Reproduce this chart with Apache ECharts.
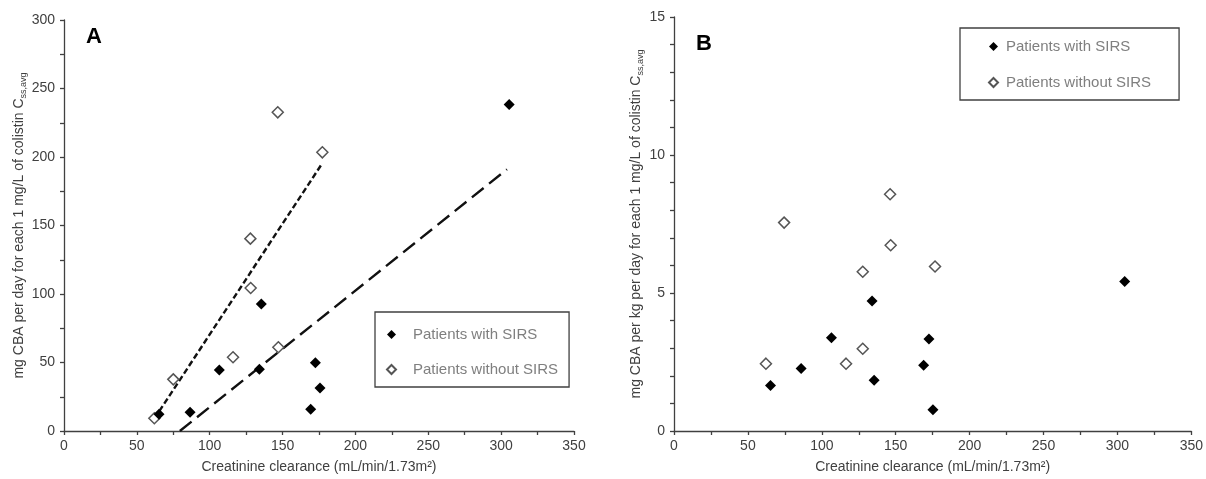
<!DOCTYPE html>
<html>
<head>
<meta charset="utf-8">
<script src="https://cdn.jsdelivr.net/npm/echarts@6/dist/echarts.min.js"></script>
<style>
  html, body { margin: 0; padding: 0; background: #fff; }
  #chart { width: 1206px; height: 479px; }
</style>
</head>
<body>
<div id="chart"></div>
<script>
// creatinine clearance vs dose per 1 mg/L, panel A (mg/day) and panel B (mg/kg/day)
const withSirsA = [
  [65.2, 12.2], [86.5, 13.6], [106.6, 44.5], [134.1, 45.0], [135.4, 92.7],
  [169.3, 15.8], [172.5, 49.9], [175.7, 31.4], [305.5, 238.4]
]
const withoutSirsA = [
  [62.0, 9.3], [75.0, 37.7], [116.0, 53.8], [127.9, 140.4], [128.1, 104.4],
  [146.7, 232.6], [147.1, 61.1], [177.3, 203.4]
]
// regression lines (end points)
const fitWithA = [[79.5, 0], [304, 191]]
const fitWithoutA = [[62, 9], [177, 195]]

const withSirsB = [
  [65.3, 1.65], [86.0, 2.26], [106.5, 3.38], [134.0, 4.71], [135.4, 1.84],
  [168.9, 2.38], [172.5, 3.33], [175.2, 0.77], [304.9, 5.42]
]
const withoutSirsB = [
  [62.2, 2.44], [74.5, 7.55], [116.4, 2.44], [127.7, 5.77], [127.7, 2.98],
  [146.2, 8.58], [146.6, 6.73], [176.6, 5.96]
]

const legendNames = ['Patients with SIRS', 'Patients without SIRS']
const panelLabels = ['A', 'B']
const xName = 'Creatinine clearance (mL/min/1.73m²)'
const yNameA = '{m|mg CBA per day for each 1 mg/L of colistin C}{s|ss,avg}'
const yNameB = '{m|mg CBA per kg per day for each 1 mg/L of colistin C}{s|ss,avg}'

const font = 'Liberation Sans'
const axisColor = '#404040'

function xAxisOf(gridIndex) {
  return {
    type: 'value',
    gridIndex: gridIndex,
    min: 0,
    max: 350,
    interval: 50,
    name: xName,
    nameLocation: 'middle',
    nameGap: 29,
    nameTextStyle: { fontFamily: font, fontSize: 14, color: axisColor },
    axisLine: { show: true, lineStyle: { color: axisColor, width: 1.3 } },
    axisTick: { show: true, length: 4, lineStyle: { color: axisColor, width: 1.3 } },
    minorTick: { show: true, splitNumber: 2, length: 4, lineStyle: { color: axisColor, width: 1.3 } },
    splitLine: { show: false },
    axisLabel: { fontFamily: font, fontSize: 14, color: axisColor, margin: 8 }
  }
}

function yAxisOf(gridIndex, max, interval, minorSplit, name, gap) {
  return {
    type: 'value',
    gridIndex: gridIndex,
    min: 0,
    max: max,
    interval: interval,
    name: name,
    nameLocation: 'middle',
    nameGap: gap,
    nameTextStyle: {
      rich: {
        m: { fontFamily: font, fontSize: 14, color: axisColor, lineHeight: 17 },
        s: { fontFamily: font, fontSize: 9, color: axisColor, lineHeight: 17, verticalAlign: 'bottom' }
      }
    },
    axisLine: { show: true, lineStyle: { color: axisColor, width: 1.3 } },
    axisTick: { show: true, length: 4, lineStyle: { color: axisColor, width: 1.3 } },
    minorTick: { show: true, splitNumber: minorSplit, length: 4, lineStyle: { color: axisColor, width: 1.3 } },
    splitLine: { show: false },
    axisLabel: { fontFamily: font, fontSize: 14, color: axisColor, margin: 9 }
  }
}

const filledStyle = { color: '#000', opacity: 1 }
const openStyle = { color: '#fff', borderColor: '#555', borderWidth: 1.5, opacity: 1 }

function scatter(name, data, idx, style, z) {
  return {
    name: name,
    type: 'scatter',
    xAxisIndex: idx,
    yAxisIndex: idx,
    symbol: 'diamond',
    symbolSize: 11,
    itemStyle: style,
    data: data,
    z: z
  }
}

function fitLine(data, dash) {
  return {
    name: 'fit',
    type: 'line',
    xAxisIndex: 0,
    yAxisIndex: 0,
    data: data,
    symbol: 'none',
    silent: true,
    lineStyle: { color: '#111', width: 2.4, type: dash },
    z: 1
  }
}

const legendText = { fontFamily: font, fontSize: 15, color: '#7f7f7f' }

const chart = echarts.init(document.getElementById('chart'))
chart.setOption({
  backgroundColor: '#fff',
  animation: false,
  title: [
    { text: panelLabels[0], left: 86, top: 26, padding: 0, textStyle: { fontFamily: font, fontSize: 22, fontWeight: 'bold', color: '#000' } },
    { text: panelLabels[1], left: 696, top: 33, padding: 0, textStyle: { fontFamily: font, fontSize: 22, fontWeight: 'bold', color: '#000' } }
  ],
  legend: [
    {
      data: legendNames,
      orient: 'vertical',
      left: 375,
      top: 312,
      padding: [15, 11, 10, 11],
      itemGap: 20,
      itemWidth: 9,
      itemHeight: 9,
      borderColor: axisColor,
      borderWidth: 1.3,
      textStyle: Object.assign({ padding: [0, 0, 0, 12] }, legendText)
    },
    {
      data: legendNames,
      orient: 'vertical',
      left: 960,
      top: 28,
      padding: [11, 28, 10, 28],
      itemGap: 21,
      itemWidth: 9,
      itemHeight: 9,
      borderColor: axisColor,
      borderWidth: 1.3,
      textStyle: Object.assign({ padding: [0, 0, 0, 3] }, legendText)
    }
  ],
  grid: [
    { left: 64, top: 20, width: 510, height: 411 },
    { left: 674, top: 17, width: 518, height: 416 }
  ],
  xAxis: [xAxisOf(0), xAxisOf(1)],
  yAxis: [
    yAxisOf(0, 300, 50, 2, yNameA, 30),
    yAxisOf(1, 15, 5, 5, yNameB, 29)
  ],
  series: [
    fitLine(fitWithoutA, [6, 3]),
    fitLine(fitWithA, [15, 7]),
    scatter(legendNames[1], withoutSirsA, 0, openStyle, 2),
    scatter(legendNames[0], withSirsA, 0, filledStyle, 3),
    scatter(legendNames[1], withoutSirsB, 1, openStyle, 2),
    scatter(legendNames[0], withSirsB, 1, filledStyle, 3)
  ]
})
</script>
</body>
</html>
